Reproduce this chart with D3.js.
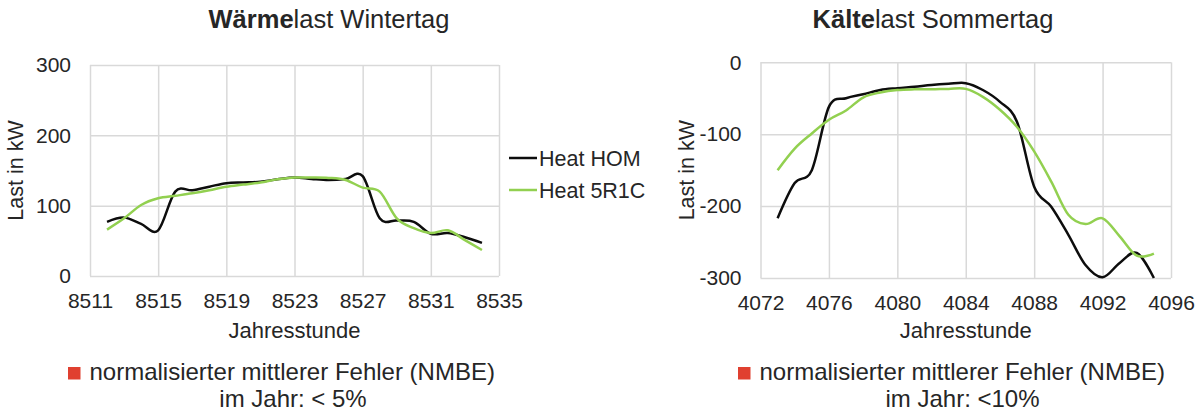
<!DOCTYPE html>
<html>
<head>
<meta charset="utf-8">
<script src="https://cdn.jsdelivr.net/npm/d3@7"></script>
<style>
  body { margin: 0; background: #fff; }
  svg text { font-family: "Liberation Sans", Arial, sans-serif; fill: #262626; }
</style>
</head>
<body>
<svg id="chart" width="1203" height="412"></svg>
<script>
'use strict';

// Waermelast Wintertag (hours of the year, load in kW)
var heatHours = [8512, 8513, 8514, 8515, 8516, 8517, 8518, 8519, 8520, 8521, 8522, 8523,
                 8524, 8525, 8526, 8527, 8528, 8529, 8530, 8531, 8532, 8533, 8534];
var heatHOM   = [77, 83, 74, 65, 120, 122, 127, 132, 133, 134, 137.5, 140,
                 138, 136.5, 138, 142, 82, 79, 77, 60, 61, 55, 47];
var heat5R1C  = [66, 82, 101, 110.5, 114, 117.6, 122, 127, 130, 133, 137.5, 140,
                 140, 139.5, 136.5, 125.6, 120, 82, 68, 61, 65, 51, 37];
var heatXTicks = [8511, 8515, 8519, 8523, 8527, 8531, 8535];
var heatYTicks = [0, 100, 200, 300];

// Kaeltelast Sommertag
var coolHours = [4073, 4074, 4075, 4076, 4077, 4078, 4079, 4080, 4081, 4082, 4083, 4084,
                 4085, 4086, 4087, 4088, 4089, 4090, 4091, 4092, 4093, 4094, 4095];
var coolHOM   = [-217, -168, -150, -62, -50, -44.5, -38.5, -36, -34, -31.6, -30, -29,
                 -38.5, -55, -83, -173, -201, -240, -282, -299, -279, -265, -300];
var cool5R1C  = [-150, -120, -99, -80, -67, -49, -42, -38.5, -37.6, -37.6, -37, -37,
                 -48, -66, -90, -124, -166, -212, -225, -217, -242, -269, -266];
var coolXTicks = [4072, 4076, 4080, 4084, 4088, 4092, 4096];
var coolYTicks = [-300, -200, -100, 0];

var seriesNames = ["Heat HOM", "Heat 5R1C"];
var seriesColors = ["#0d0d0d", "#92d050"];
var gridColor = "#d9d9d9";
var noteColor = "#e04030";

var svg = d3.select("#chart");

// Excel writes a plain hyphen for negative numbers
var plainNumber = function(d) { return String(d); };

function drawPanel(cfg) {
  var x = d3.scaleLinear().domain(cfg.xDomain).range([cfg.left, cfg.right]);
  var y = d3.scaleLinear().domain(cfg.yDomain).range([cfg.bottom, cfg.top]);
  var g = svg.append("g");

  // grid: vertical lines at x ticks, horizontal lines at y ticks
  var xAxis = d3.axisBottom(x).tickValues(cfg.xTicks).tickSize(-(cfg.bottom - cfg.top))
    .tickFormat(plainNumber);
  var gx = g.append("g").attr("transform", "translate(0," + cfg.bottom + ")").call(xAxis);
  gx.select(".domain").remove();
  gx.selectAll(".tick line").attr("stroke", gridColor).attr("stroke-width", 1.5);
  gx.selectAll(".tick text").attr("font-size", 21).attr("fill", "#262626")
    .attr("dy", "0.71em").attr("y", 17);

  var yAxis = d3.axisLeft(y).tickValues(cfg.yTicks).tickSize(-(cfg.right - cfg.left))
    .tickFormat(plainNumber).tickPadding(19);
  var gy = g.append("g").attr("transform", "translate(" + cfg.left + ",0)").call(yAxis);
  gy.select(".domain").remove();
  gy.selectAll(".tick line").attr("stroke", gridColor).attr("stroke-width", 1.5);
  gy.selectAll(".tick text").attr("font-size", 21).attr("fill", "#262626");

  var line = d3.line()
    .x(function(d) { return x(d[0]); })
    .y(function(d) { return y(d[1]); })
    .curve(d3.curveCardinal.tension(0));

  cfg.series.forEach(function(vals, i) {
    g.append("path")
      .datum(cfg.hours.map(function(h, k) { return [h, vals[k]]; }))
      .attr("fill", "none")
      .attr("stroke", seriesColors[i])
      .attr("stroke-width", 2.5)
      .attr("stroke-linejoin", "round")
      .attr("d", line);
  });

  // title, bold part first
  var title = g.append("text").attr("x", cfg.titleX).attr("y", 28)
    .attr("text-anchor", "middle").attr("font-size", 25.5);
  title.append("tspan").attr("font-weight", "bold").text(cfg.titleBold);
  title.append("tspan").text(cfg.titleRest);

  var midY = (cfg.top + cfg.bottom) / 2;
  g.append("text")
    .attr("transform", "translate(" + (cfg.left - 67) + "," + midY + ") rotate(-90)")
    .attr("text-anchor", "middle").attr("font-size", 21.5)
    .text("Last in kW");

  g.append("text").attr("x", (cfg.left + cfg.right) / 2).attr("y", 338)
    .attr("text-anchor", "middle").attr("font-size", 22)
    .text("Jahresstunde");

  // error note below the chart
  g.append("rect").attr("x", cfg.noteX).attr("y", 367).attr("width", 12.5).attr("height", 12.5)
    .attr("fill", noteColor);
  g.append("text").attr("x", cfg.noteX + 21.5).attr("y", 380).attr("font-size", 24)
    .text("normalisierter mittlerer Fehler (NMBE)");
  g.append("text").attr("x", cfg.note2X).attr("y", 407).attr("text-anchor", "middle")
    .attr("font-size", 24).text(cfg.note2);
}

drawPanel({
  left: 90, right: 499, top: 65, bottom: 276,
  xDomain: [8511, 8535], yDomain: [0, 300],
  xTicks: heatXTicks, yTicks: heatYTicks,
  hours: heatHours, series: [heatHOM, heat5R1C],
  titleBold: "Wärme", titleRest: "last Wintertag", titleX: 329,
  noteX: 68, note2X: 293, note2: "im Jahr: < 5%"
});

drawPanel({
  left: 760.5, right: 1171, top: 62.3, bottom: 278,
  xDomain: [4072, 4096], yDomain: [-300, 0],
  xTicks: coolXTicks, yTicks: coolYTicks,
  hours: coolHours, series: [coolHOM, cool5R1C],
  titleBold: "Kälte", titleRest: "last Sommertag", titleX: 933,
  noteX: 738, note2X: 962.5, note2: "im Jahr: <10%"
});

// legend between the two panels
var legend = svg.append("g");
seriesNames.forEach(function(name, i) {
  var ly = 158 + i * 32;
  legend.append("line").attr("x1", 509).attr("x2", 537).attr("y1", ly).attr("y2", ly)
    .attr("stroke", seriesColors[i]).attr("stroke-width", 2.5);
  legend.append("text").attr("x", 539).attr("y", ly + 7.5).attr("font-size", 21.5).text(name);
});
</script>
</body>
</html>
